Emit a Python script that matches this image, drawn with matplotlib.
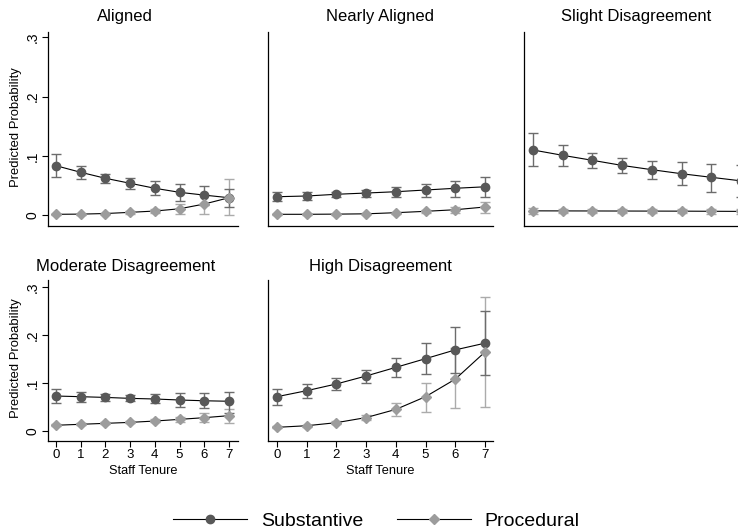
import matplotlib
matplotlib.use("Agg")
import matplotlib.pyplot as plt
import numpy as np

plt.rcParams['font.family'] = ['Liberation Sans', 'DejaVu Sans']

tenure = [0, 1, 2, 3, 4, 5, 6, 7]
panel_titles = ["Aligned", "Nearly Aligned", "Slight Disagreement",
                "Moderate Disagreement", "High Disagreement"]
ytick_vals = [0, 0.1, 0.2, 0.3]
ytick_labels = ["0", ".1", ".2", ".3"]
series_names = ["Substantive", "Procedural"]

aligned_sub = [0.0835, 0.0724, 0.0623, 0.0539, 0.0455, 0.0387, 0.034, 0.0296]
aligned_sub_lo = [0.064, 0.0606, 0.0544, 0.0438, 0.034, 0.024, 0.0173, 0.014]
aligned_sub_hi = [0.103, 0.0835, 0.0695, 0.0628, 0.058, 0.053, 0.0498, 0.045]
aligned_proc = [0.0017, 0.002, 0.003, 0.005, 0.0072, 0.011, 0.019, 0.0296]
aligned_proc_lo = [0.0008, 0.001, 0.002, 0.003, 0.004, 0.003, 0.003, 0.0]
aligned_proc_hi = [0.0026, 0.003, 0.004, 0.007, 0.0105, 0.019, 0.034, 0.061]

nearly_sub = [0.0313, 0.0325, 0.0354, 0.0375, 0.0397, 0.0426, 0.0455, 0.048]
nearly_sub_lo = [0.024, 0.026, 0.030, 0.031, 0.031, 0.031, 0.030, 0.030]
nearly_sub_hi = [0.0387, 0.039, 0.040, 0.0426, 0.047, 0.053, 0.058, 0.065]
nearly_proc = [0.0017, 0.0017, 0.002, 0.0025, 0.0044, 0.0067, 0.0094, 0.014]
nearly_proc_lo = [0.001, 0.001, 0.0012, 0.0015, 0.003, 0.004, 0.0044, 0.0044]
nearly_proc_hi = [0.0025, 0.0025, 0.003, 0.0035, 0.006, 0.0095, 0.0145, 0.023]

slight_sub = [0.110, 0.101, 0.0926, 0.084, 0.0768, 0.070, 0.064, 0.058]
slight_sub_lo = [0.083, 0.083, 0.079, 0.0717, 0.0606, 0.0505, 0.040, 0.031]
slight_sub_hi = [0.138, 0.119, 0.105, 0.0965, 0.092, 0.089, 0.087, 0.085]
slight_proc = [0.0075, 0.0074, 0.0073, 0.0072, 0.0071, 0.0070, 0.0068, 0.0066]
slight_proc_lo = [0.003, 0.0035, 0.004, 0.0045, 0.0045, 0.004, 0.003, 0.002]
slight_proc_hi = [0.012, 0.0113, 0.0106, 0.010, 0.0098, 0.010, 0.0106, 0.0112]

moderate_sub = [0.0729, 0.0715, 0.070, 0.068, 0.0667, 0.0646, 0.063, 0.062]
moderate_sub_lo = [0.059, 0.061, 0.063, 0.0625, 0.0576, 0.051, 0.047, 0.037]
moderate_sub_hi = [0.087, 0.082, 0.0764, 0.074, 0.0764, 0.0785, 0.080, 0.082]
moderate_proc = [0.012, 0.014, 0.016, 0.018, 0.0208, 0.0243, 0.0278, 0.032]
moderate_proc_lo = [0.010, 0.012, 0.014, 0.016, 0.018, 0.019, 0.018, 0.016]
moderate_proc_hi = [0.014, 0.016, 0.018, 0.020, 0.024, 0.030, 0.038, 0.046]

high_sub = [0.0715, 0.084, 0.098, 0.1146, 0.1326, 0.1507, 0.169, 0.183]
high_sub_lo = [0.0535, 0.069, 0.086, 0.101, 0.112, 0.119, 0.121, 0.117]
high_sub_hi = [0.088, 0.098, 0.110, 0.128, 0.153, 0.183, 0.216, 0.25]
high_proc = [0.0077, 0.011, 0.0174, 0.028, 0.045, 0.0715, 0.108, 0.1646]
high_proc_lo = [0.006, 0.009, 0.015, 0.023, 0.032, 0.040, 0.047, 0.049]
high_proc_hi = [0.0095, 0.013, 0.020, 0.033, 0.059, 0.101, 0.172, 0.279]

panels = [
    (aligned_sub, aligned_sub_lo, aligned_sub_hi, aligned_proc, aligned_proc_lo, aligned_proc_hi),
    (nearly_sub, nearly_sub_lo, nearly_sub_hi, nearly_proc, nearly_proc_lo, nearly_proc_hi),
    (slight_sub, slight_sub_lo, slight_sub_hi, slight_proc, slight_proc_lo, slight_proc_hi),
    (moderate_sub, moderate_sub_lo, moderate_sub_hi, moderate_proc, moderate_proc_lo, moderate_proc_hi),
    (high_sub, high_sub_lo, high_sub_hi, high_proc, high_proc_lo, high_proc_hi),
]

W, H = 738, 531
fig = plt.figure(figsize=(W / 100, H / 100), dpi=100)

# pixel boxes: left, right, top, bottom
boxes = [(48, 238, 32, 226), (268, 493, 32, 226), (524, 749, 32, 226),
         (48, 238, 280, 441), (268, 493, 280, 441)]
title_pos = [(125, 17), (380, 17), (636, 17), (126, 267), (380, 267)]

SUB_M = '#585858'
PROC_M = '#9c9c9c'
SUB_E = '#6c6c6c'
PROC_E = '#ababab'

handles = []
for i, (box, data) in enumerate(zip(boxes, panels)):
    l, r, t, b = box
    ax = fig.add_axes([l / W, 1 - b / H, (r - l) / W, (b - t) / H])
    s, slo, shi, p, plo, phi = [np.array(v) for v in data]
    x = np.array(tenure)
    ax.errorbar(x, p, yerr=[p - plo, phi - p], fmt='none', ecolor=PROC_E,
                elinewidth=1.0, capsize=3.6, capthick=1.0, zorder=2)
    ax.errorbar(x, s, yerr=[s - slo, shi - s], fmt='none', ecolor=SUB_E,
                elinewidth=1.0, capsize=3.6, capthick=1.0, zorder=3)
    h1, = ax.plot(x, s, color='black', lw=0.8, marker='o', ms=6,
                  mfc=SUB_M, mec=SUB_M, zorder=4)
    h2, = ax.plot(x, p, color='black', lw=0.8, marker='D', ms=5.3,
                  mfc=PROC_M, mec=PROC_M, zorder=4)
    if i == 0:
        handles = [h1, h2]
    top_row = i < 3
    if i in (0, 3):
        ax.set_xlim(-0.324, 7.364)
    else:
        ax.set_xlim(-0.30, 7.27)
    if top_row:
        ax.set_ylim(-0.018, 0.3086)
    else:
        ax.set_ylim(-0.0208, 0.3146)
    for sp in ['top', 'right']:
        ax.spines[sp].set_visible(False)
    for sp in ['left', 'bottom']:
        ax.spines[sp].set_linewidth(0.9)
        ax.spines[sp].set_color('black')
    ax.set_facecolor('none')
    # x axis
    if top_row:
        ax.set_xticks([])
    else:
        ax.set_xticks(tenure)
        ax.set_xticklabels([str(v) for v in tenure], fontsize=9.5)
        ax.tick_params(axis='x', length=4.5, width=0.8, pad=1.2, direction='out')
        fig.text((l + r) / 2 / W, 1 - 464.8 / H, "Staff Tenure", ha='center',
                 va='top', fontsize=9.2)
    # y axis
    if i in (0, 3):
        ax.set_yticks(ytick_vals)
        ax.set_yticklabels(ytick_labels, fontsize=10, rotation=90, va='center')
        ax.tick_params(axis='y', length=4.5, width=0.8, pad=1.5)
        fig.text(16 / W, 1 - ((t + b) / 2 - 2) / H, "Predicted Probability",
                 rotation=90, ha='center', va='center', fontsize=9.4)
    else:
        ax.set_yticks([])
    tx, ty = title_pos[i]
    fig.text(tx / W, 1 - ty / H, panel_titles[i], ha='center', va='center',
             fontsize=12)

leg = fig.legend(handles, series_names, loc='center', bbox_to_anchor=(376.5 / W, 1 - 521 / H),
                 ncol=2, frameon=False, fontsize=14, handlelength=3.8,
                 handletextpad=0.7, columnspacing=1.75, numpoints=1,
                 borderpad=0, borderaxespad=0)

fig.savefig("out.png", dpi=100)
